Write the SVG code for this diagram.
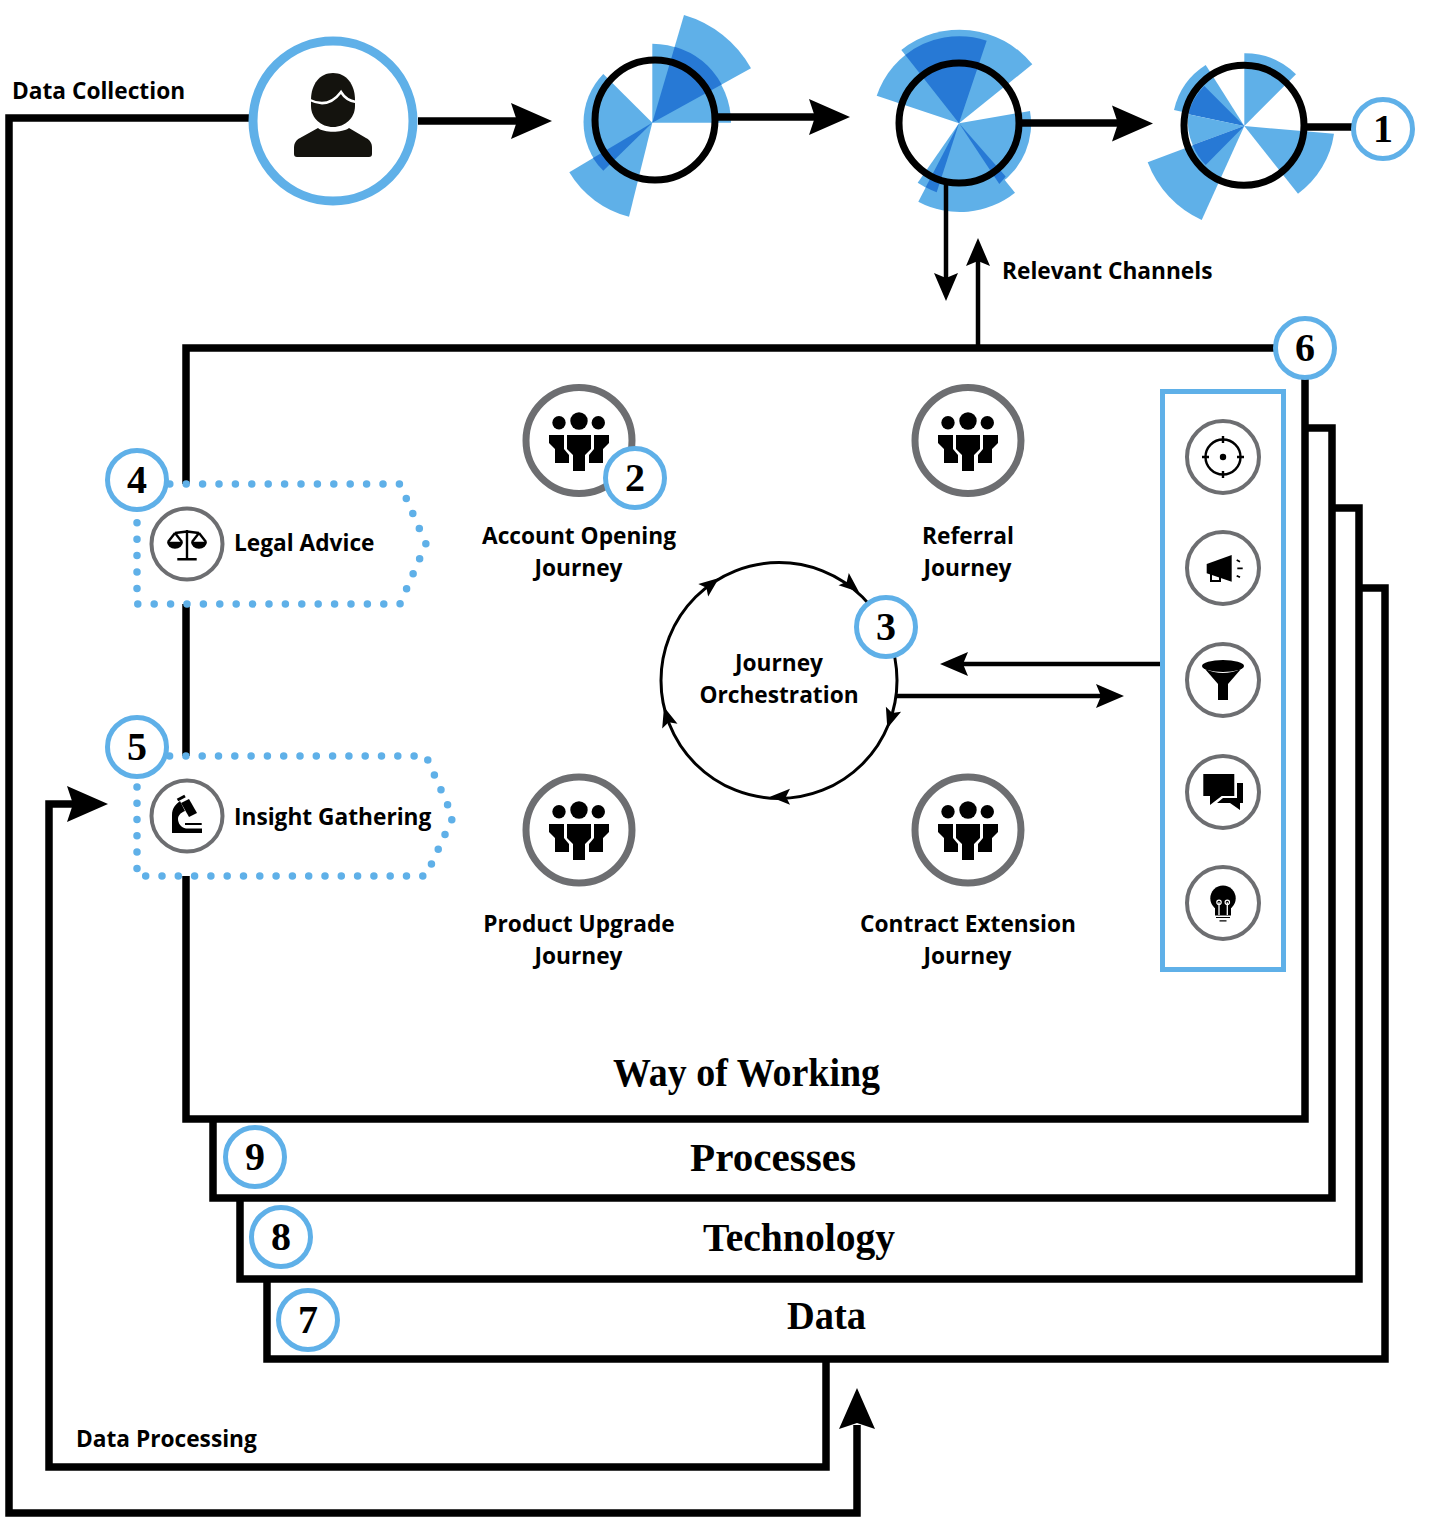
<svg xmlns="http://www.w3.org/2000/svg" width="1431" height="1528" viewBox="0 0 1431 1528">
<style>
.ln{fill:none;stroke:#000;stroke-width:7.500;stroke-linejoin:miter}
.th{fill:none;stroke:#000;stroke-width:4.500}
.l{fill:#5fb0e8}.d{fill:#2779d5}
.ring{fill:none;stroke:#000;stroke-width:7}
.badge{fill:#fff;stroke:#5fb0e8;stroke-width:5}
.num{font-family:"Liberation Serif",serif;font-weight:700;font-size:40px;text-anchor:middle;fill:#000}
.lab{font-family:"Open Sans",sans-serif;font-weight:700;font-size:22.700px;fill:#000}
.mid{text-anchor:middle}
.hd{font-family:"Liberation Serif",serif;font-weight:700;font-size:39px;text-anchor:middle;fill:#000}
.ic{fill:#fff;stroke:#6d6e71;stroke-width:4}
.jc{fill:#fff;stroke:#6d6e71;stroke-width:7}
.dot{fill:#fff;stroke:#5fb0e8;stroke-width:7.500;stroke-linecap:round}
</style>
<defs>
<path id="hdS" d="M0 0L-20 -8L-16 0L-20 8Z" fill="#000"/>
<path id="hdL" d="M0 0L-41 -18L-35 0L-41 18Z" fill="#000"/>
<path id="hdM" d="M0 0L-28 -12L-23 0L-28 12Z" fill="#000"/>
<g id="people" fill="#000">
<circle cx="-20" cy="-18.300" r="6.700"/><circle cx="0" cy="-20" r="8.700"/><circle cx="19.300" cy="-18.300" r="6.700"/>
<path d="M-12 -6H12V8L6 14V30H-6V14L-12 8Z"/>
<path d="M-30 -6H-15V8L-10 14V22H-24V8L-30 2Z"/>
<path d="M30 -6H15V8L10 14V22H24V8L30 2Z"/>
</g>
</defs>
<g id="stack">
<path class="ln" d="M1305 428H1332V1198H213V1119"/>
<path class="ln" d="M1332 508H1359V1279H240V1198"/>
<path class="ln" d="M1359 588H1385V1359H267V1279"/>
<path class="ln" d="M186 1119H1305V348H186Z"/>
<text class="hd" x="746.500" y="1086" textLength="267" lengthAdjust="spacingAndGlyphs">Way of Working</text>
<text class="hd" x="773" y="1171" textLength="166" lengthAdjust="spacingAndGlyphs">Processes</text>
<text class="hd" x="799" y="1251" textLength="192" lengthAdjust="spacingAndGlyphs">Technology</text>
<text class="hd" x="826.500" y="1329" textLength="79" lengthAdjust="spacingAndGlyphs">Data</text>
</g>
<g id="rose-a">
<path class="l" d="M652.300 122.700L652.300 43.700A79 79 0 0 1 731 122.700Z"/>
<path class="l" d="M652.300 122.700L684 15A112.500 112.500 0 0 1 751 68.300Z"/>
<path class="d" d="M652.300 122.700L674.700 46.700A79 79 0 0 1 721.700 84.500Z"/>
<path class="l" d="M652.300 122.700L603.300 74A69 69 0 0 0 603.300 170.700Z"/>
<path class="l" d="M652.300 122.700L569.300 172.300A97 97 0 0 0 629 216.700Z"/>
<path class="d" d="M652.300 122.700L593 158A69 69 0 0 0 603.300 170.700Z"/>
<circle class="ring" cx="655" cy="120" r="60"/>
</g>
<g id="rose-b">
<path class="l" d="M959 123.300L901.300 50A93.700 93.700 0 0 1 1032.300 64.300Z"/>
<path class="l" d="M959 123.300L876.700 95.700A87 87 0 0 1 986.700 40.700Z"/>
<path class="d" d="M959 123.300L905.300 55A87 87 0 0 1 986.700 40.700Z"/>
<path class="l" d="M959 123.300L1030 111A73 73 0 0 1 999.300 184Z"/>
<path class="l" d="M959 123.300L1015 192.700A88.500 88.500 0 0 1 918.300 201.700Z"/>
<path class="d" d="M959 123.300L1005.700 176.600A72 72 0 0 1 999.300 184Z"/>
<path class="l" d="M959 123.300L936.700 192.300A72 72 0 0 1 917.700 182.700Z"/>
<path class="d" d="M959 123.300L936.700 192.300A72 72 0 0 1 925.700 187.300Z"/>
<circle class="ring" cx="959" cy="123" r="60"/>
</g>
<g id="rose-c">
<path class="l" d="M1244.300 126L1244.300 53.300A73 73 0 0 1 1296 74.300Z"/>
<path class="l" d="M1244.300 126L1205.700 65A72 72 0 0 0 1174 110Z"/>
<path class="d" d="M1244.300 126L1204.300 86A58 58 0 0 0 1188.300 114.300Z"/>
<path class="l" d="M1244.300 126L1188.300 114.300A58 58 0 0 0 1192.700 145Z"/>
<path class="l" d="M1244.300 126L1147.700 162.300A103 103 0 0 0 1201.700 220Z"/>
<path class="d" d="M1244.300 126L1192.700 145A55 55 0 0 0 1205.700 165Z"/>
<path class="l" d="M1244.300 126L1334 133.700A90 90 0 0 1 1298 193.700Z"/>
<circle class="ring" cx="1244" cy="125.300" r="60"/>
</g>
<g id="connectors">
<path class="ln" d="M250 118H9V1513H857V1425"/>
<use href="#hdL" transform="translate(857 1388) rotate(-90)"/>
<path class="ln" d="M826 1360V1467H49V804H75"/>
<use href="#hdL" transform="translate(108 804)"/>
<path class="ln" d="M418 121H520"/><use href="#hdL" transform="translate(552 121)"/>
<path class="ln" d="M715 117H820"/><use href="#hdL" transform="translate(850 117)"/>
<path class="ln" d="M1021 123H1122"/><use href="#hdL" transform="translate(1153 123.500)"/>
<path class="ln" d="M1305 127H1358"/>
<path class="th" d="M946 184V280"/><use href="#hdM" transform="translate(946 301) rotate(90)"/>
<path class="th" d="M978 348V260"/><use href="#hdM" transform="translate(978 238) rotate(-90)"/>
<path class="th" d="M1160 664H960"/><use href="#hdM" transform="translate(940 664) rotate(180)"/>
<path class="th" d="M897 696H1105"/><use href="#hdM" transform="translate(1124 696)"/>
</g>
<g id="user">
<circle cx="333" cy="121" r="80" fill="#fff" stroke="#5fb0e8" stroke-width="9"/>
<path fill="#14130e" d="M311 100C311 84 320 73 333 73C346 73 355 84 355 100V106C355 118 345 127 333 127C321 127 311 118 311 106Z"/>
<path fill="none" stroke="#fff" stroke-width="2.500" d="M310 100C322 106 332 104 341 92C344 97 349 101 356 102"/>
<path fill="#14130e" d="M297 157Q294 157 294 154V148C294 143 296 140 300 138L318 128C324 133 342 133 349 128L366 138C370 140 372 143 372 148V154Q372 157 369 157Z"/>
</g>
<g id="channels">
<rect x="1162.500" y="391.500" width="121" height="578" fill="#fff" stroke="#5fb0e8" stroke-width="5"/>
<g id="ch-target">
<circle class="ic" cx="1223" cy="457" r="36"/>
<circle cx="1223" cy="457" r="17.500" fill="none" stroke="#000" stroke-width="2.400"/>
<circle cx="1223" cy="457" r="3.200"/>
<path stroke="#000" stroke-width="2.400" d="M1223 436V443M1223 471V478M1202 457H1209M1237 457H1244"/>
</g>
<g id="ch-megaphone">
<circle class="ic" cx="1223" cy="568" r="36"/>
<path d="M1206.700 564L1231.700 555V581.700L1206.700 573.300Z"/>
<path fill="none" stroke="#000" stroke-width="2" d="M1211 573V581H1220V577"/>
<path fill="none" stroke="#000" stroke-width="1.800" d="M1236.700 560L1240 561.700M1237.300 568.300H1242.700M1236.700 575.700L1240 577.300"/>
</g>
<g id="ch-funnel">
<circle class="ic" cx="1223" cy="680" r="36"/>
<ellipse cx="1223" cy="666" rx="21" ry="6"/>
<path d="M1205 669Q1223 677 1241 669L1228 684V700H1218V684Z"/>
</g>
<g id="ch-chat">
<circle class="ic" cx="1223" cy="792" r="36"/>
<path d="M1203.300 774H1234.300V796H1221.700L1210 805V796H1203.300Z"/>
<path d="M1237 783H1243V803H1240V810L1230 803H1217L1223 798H1237Z"/>
</g>
<g id="ch-bulb">
<circle class="ic" cx="1223" cy="903" r="36"/>
<circle cx="1223" cy="898.300" r="12.700"/>
<path d="M1215 905H1231V915.500H1215Z"/>
<path fill="none" stroke="#fff" stroke-width="1.300" d="M1219 915V902.300M1227.300 915V902.300"/>
<circle cx="1219" cy="902.300" r="2.200" fill="none" stroke="#fff" stroke-width="1.200"/>
<circle cx="1227.300" cy="902.300" r="2.200" fill="none" stroke="#fff" stroke-width="1.200"/>
<path stroke="#000" stroke-width="1.200" d="M1216 917.500H1230M1219.500 920.800H1226.500"/>
</g>
</g>
<g id="legal-advice">
<path class="dot" stroke-dasharray="0 16.400" d="M137 484H400L426 544L400 604H137Z"/>
<circle class="ic" cx="187" cy="544" r="35.500"/>
<path fill="none" stroke="#000" stroke-width="2.400" d="M187 530V559.300M177.300 559.300H196.700M175 533L187 531.500L199 533M175 533L168 542M175 533L182 542M199 533L192 542M199 533L206 542"/>
<path d="M167 541.700H183A8 7 0 0 1 167 541.700ZM191 541.700H207A8 7 0 0 1 191 541.700Z"/>
<text class="lab" x="234" y="551">Legal Advice</text>
</g>
<g id="insight-gathering">
<path class="dot" stroke-dasharray="0 16.300" d="M137 756H426L453 817L426 876H137Z"/>
<circle class="ic" cx="187" cy="816" r="35.500"/>
<path d="M181 803L189 799L197 813L189 817Z"/>
<path fill="none" stroke="#000" stroke-width="3" d="M177.500 800L185 796"/>
<path d="M172 829V815C172 808 176 804 180 801L185 811C180 813 178 816 178 819C178 823 181 828 186 828.500H202V833H172Z"/>
<path d="M185 823H201.700V825H185Z"/>
<text class="lab" x="234" y="825">Insight Gathering</text>
</g>
<g id="journey-account">
<circle class="jc" cx="579" cy="440.500" r="53"/>
<use href="#people" transform="translate(579 441)"/>
<text class="lab mid" x="579" y="544">Account Opening</text>
<text class="lab mid" x="578.500" y="576">Journey</text>
</g>
<g id="journey-referral">
<circle class="jc" cx="968" cy="440.500" r="53"/>
<use href="#people" transform="translate(968 441)"/>
<text class="lab mid" x="968" y="544">Referral</text>
<text class="lab mid" x="967.500" y="576">Journey</text>
</g>
<g id="journey-upgrade">
<circle class="jc" cx="579" cy="830" r="53"/>
<use href="#people" transform="translate(579 830)"/>
<text class="lab mid" x="579" y="932">Product Upgrade</text>
<text class="lab mid" x="578.500" y="964">Journey</text>
</g>
<g id="journey-contract">
<circle class="jc" cx="968" cy="830" r="53"/>
<use href="#people" transform="translate(968 830)"/>
<text class="lab mid" x="968" y="932">Contract Extension</text>
<text class="lab mid" x="967.500" y="964">Journey</text>
</g>
<g id="orchestration">
<circle cx="779" cy="680.500" r="118" fill="none" stroke="#000" stroke-width="3"/>
<use href="#hdS" transform="translate(719 578) rotate(-38)"/>
<use href="#hdS" transform="translate(859 592) rotate(40)"/>
<use href="#hdS" transform="translate(887.300 728.300) rotate(108)"/>
<use href="#hdS" transform="translate(770 796.700) rotate(180)"/>
<use href="#hdS" transform="translate(664 707) rotate(-107)"/>
<text class="lab mid" x="779" y="671">Journey</text>
<text class="lab mid" x="779" y="703">Orchestration</text>
</g>
<g id="labels">
<text class="lab" x="12" y="99">Data Collection</text>
<text class="lab" x="76" y="1447">Data Processing</text>
<text class="lab" x="1002" y="279">Relevant Channels</text>
</g>
<g id="badge-1"><circle class="badge" cx="1383" cy="129" r="29.500"/><text class="num" x="1383" y="142">1</text></g>
<g id="badge-2"><circle class="badge" cx="635" cy="478" r="29.500"/><text class="num" x="635" y="491">2</text></g>
<g id="badge-3"><circle class="badge" cx="886" cy="627" r="29.500"/><text class="num" x="886" y="640">3</text></g>
<g id="badge-4"><circle class="badge" cx="137" cy="480" r="29.500"/><text class="num" x="137" y="493">4</text></g>
<g id="badge-5"><circle class="badge" cx="137" cy="747" r="29.500"/><text class="num" x="137" y="760">5</text></g>
<g id="badge-6"><circle class="badge" cx="1305" cy="348" r="29.500"/><text class="num" x="1305" y="361">6</text></g>
<g id="badge-7"><circle class="badge" cx="308" cy="1320" r="29.500"/><text class="num" x="308" y="1333">7</text></g>
<g id="badge-8"><circle class="badge" cx="281" cy="1237" r="29.500"/><text class="num" x="281" y="1250">8</text></g>
<g id="badge-9"><circle class="badge" cx="255" cy="1157" r="29.500"/><text class="num" x="255" y="1170">9</text></g>
</svg>
